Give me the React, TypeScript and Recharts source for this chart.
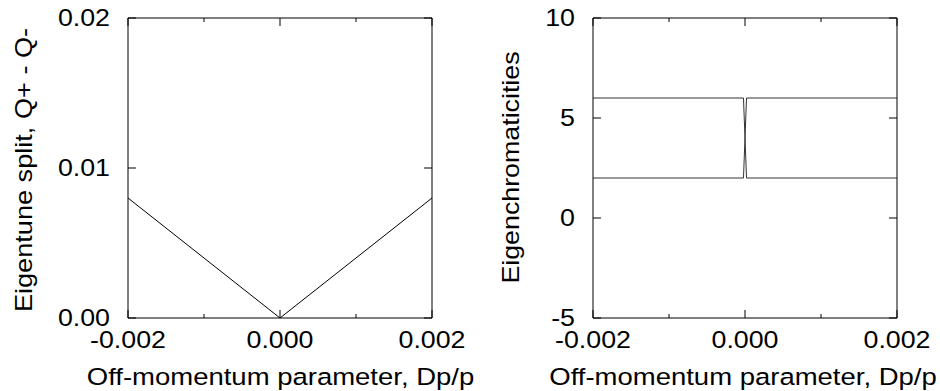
import React from 'react';
import { LineChart, Line, XAxis, YAxis } from 'recharts';

// ---- data ----
const splitDp = [-0.002, 0, 0.002];
const splitQ = [0.008, 0, 0.008];

const chromDp = [-0.002, -0.00002, 0.00002, 0.002];
const chromUpper = [6, 6, 2, 2];
const chromLower = [2, 2, 6, 6];

const xTicks = [-0.002, -0.001, 0, 0.001, 0.002];
const xTickLabels = ['-0.002', '', '0.000', '', '0.002'];
const splitTicks = [0, 0.01, 0.02];
const splitTickLabels = ['0.00', '0.01', '0.02'];
const chromTicks = [-5, 0, 5, 10];
const chromTickLabels = ['-5', '0', '5', '10'];

const xTitle = 'Off-momentum parameter, Dp/p';
const splitTitle = 'Eigentune split, Q+ - Q-';
const chromTitle = 'Eigenchromaticities';

const splitData = splitDp.map((x, i) => ({ x, q: splitQ[i] }));
const chromData = chromDp.map((x, i) => ({ x, a: chromUpper[i], b: chromLower[i] }));

// ---- style ----
const FONT = '"Liberation Sans", Arial, Helvetica, sans-serif';
const FS = 23.3;
const SX = 1.15;
const MAJOR = 8;
const MINOR = 4;

const T = ({ x, y, anchor, children, rotate, sx = SX }: any) => (
  <text
    transform={`translate(${x},${y})${rotate ? ' rotate(-90)' : ''} scale(${sx},1)`}
    textAnchor={anchor}
    fontFamily={FONT}
    fontSize={FS}
    fill="#000"
  >
    {children}
  </text>
);

const makeXTick = (labels: string[], side: 'bottom' | 'top') => (props: any) => {
  const { x, y, index } = props;
  const lab = labels[index] || '';
  const len = lab ? MAJOR : MINOR;
  const dir = side === 'bottom' ? -1 : 1;
  return (
    <g>
      <line x1={x} y1={y} x2={x} y2={y + dir * len} stroke="#000" strokeWidth={1} />
      {side === 'bottom' && lab ? (
        <T x={x} y={y + 29.5} anchor="middle">{lab}</T>
      ) : null}
    </g>
  );
};

const makeYTick = (labels: string[], side: 'left' | 'right') => (props: any) => {
  const { x, y, index } = props;
  const lab = labels[index] || '';
  const dir = side === 'left' ? 1 : -1;
  return (
    <g>
      <line x1={x} y1={y} x2={x + dir * MAJOR} y2={y} stroke="#000" strokeWidth={1} />
      {side === 'left' && lab ? (
        <T x={x - 18} y={y + 8.3} anchor="end">{lab}</T>
      ) : null}
    </g>
  );
};

const makeXLabel = (dx: number) => (props: any) => {
  const vb = props.viewBox || {};
  return (
    <T x={vb.x + vb.width / 2 + dx} y={vb.y + 67} anchor="middle" sx={1.18}>{xTitle}</T>
  );
};

const makeYLabel = (title: string, bx: number, dy: number, sx: number) => (props: any) => {
  const vb = props.viewBox || {};
  return (
    <T x={bx} y={vb.y + vb.height / 2 + dy} anchor="middle" rotate sx={sx}>{title}</T>
  );
};

const axisLine = { stroke: '#000', strokeWidth: 1 };

export default function App() {
  return (
    <div style={{ position: 'absolute', left: 0, top: 0, width: 940, height: 391, display: 'flex', background: '#fff', overflow: 'hidden' }}>
      <style>{`.recharts-surface{overflow:visible !important}.recharts-wrapper{overflow:visible !important}`}</style>
      <LineChart width={470} height={391} data={splitData} margin={{ top: 17, right: 37, bottom: 0, left: 0 }}>
        <XAxis
          xAxisId="b" dataKey="x" type="number" domain={[-0.002, 0.002]} ticks={xTicks}
          orientation="bottom" height={73} tickSize={0} tickMargin={0} tickLine={false}
          tick={makeXTick(xTickLabels, 'bottom')} axisLine={axisLine} allowDataOverflow interval={0}
          label={makeXLabel(0.5)}
        />
        <XAxis
          xAxisId="t" dataKey="x" type="number" domain={[-0.002, 0.002]} ticks={xTicks}
          orientation="top" height={1} tickSize={0} tickMargin={0} tickLine={false}
          tick={makeXTick(xTickLabels, 'top')} axisLine={axisLine} allowDataOverflow interval={0}
        />
        <YAxis
          yAxisId="l" type="number" domain={[0, 0.02]} ticks={splitTicks} width={128}
          tickSize={0} tickMargin={0} tickLine={false} tick={makeYTick(splitTickLabels, 'left')}
          axisLine={axisLine} allowDataOverflow interval={0}
          label={makeYLabel(splitTitle, 31.5, 2, 1.165)}
        />
        <YAxis
          yAxisId="r" orientation="right" type="number" domain={[0, 0.02]} ticks={splitTicks} width={1}
          tickSize={0} tickMargin={0} tickLine={false} tick={makeYTick(splitTickLabels, 'right')}
          axisLine={axisLine} allowDataOverflow interval={0}
        />
        <Line xAxisId="b" yAxisId="l" dataKey="q" type="linear" stroke="#000" strokeWidth={1}
          dot={false} activeDot={false} isAnimationActive={false} />
      </LineChart>
      <LineChart width={470} height={391} data={chromData} margin={{ top: 17, right: 42, bottom: 0, left: 0 }}>
        <XAxis
          xAxisId="b" dataKey="x" type="number" domain={[-0.002, 0.002]} ticks={xTicks}
          orientation="bottom" height={73} tickSize={0} tickMargin={0} tickLine={false}
          tick={makeXTick(xTickLabels, 'bottom')} axisLine={axisLine} allowDataOverflow interval={0}
          label={makeXLabel(-2)}
        />
        <XAxis
          xAxisId="t" dataKey="x" type="number" domain={[-0.002, 0.002]} ticks={xTicks}
          orientation="top" height={1} tickSize={0} tickMargin={0} tickLine={false}
          tick={makeXTick(xTickLabels, 'top')} axisLine={axisLine} allowDataOverflow interval={0}
        />
        <YAxis
          yAxisId="l" type="number" domain={[-5, 10]} ticks={chromTicks} width={123}
          tickSize={0} tickMargin={0} tickLine={false} tick={makeYTick(chromTickLabels, 'left')}
          axisLine={axisLine} allowDataOverflow interval={0}
          label={makeYLabel(chromTitle, 48.5, -0.5, 1.15)}
        />
        <YAxis
          yAxisId="r" orientation="right" type="number" domain={[-5, 10]} ticks={chromTicks} width={1}
          tickSize={0} tickMargin={0} tickLine={false} tick={makeYTick(chromTickLabels, 'right')}
          axisLine={axisLine} allowDataOverflow interval={0}
        />
        <Line xAxisId="b" yAxisId="l" dataKey="a" type="linear" stroke="#333" strokeWidth={1}
          dot={false} activeDot={false} isAnimationActive={false} />
        <Line xAxisId="b" yAxisId="l" dataKey="b" type="linear" stroke="#333" strokeWidth={1}
          dot={false} activeDot={false} isAnimationActive={false} />
      </LineChart>
    </div>
  );
}
